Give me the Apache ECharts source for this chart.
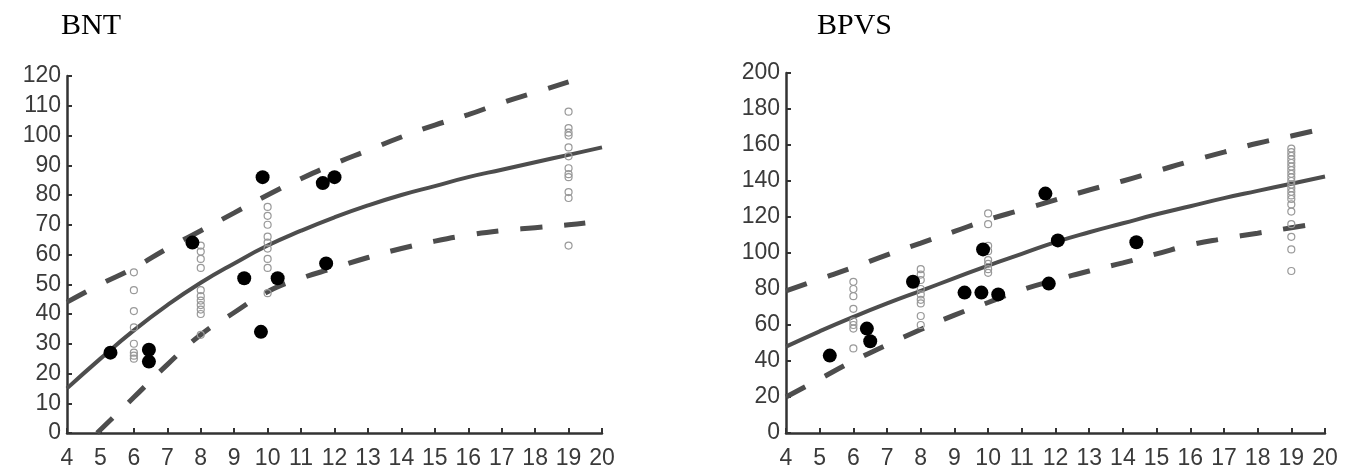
<!DOCTYPE html>
<html>
<head>
<meta charset="utf-8">
<script src="https://cdn.jsdelivr.net/npm/echarts@6/dist/echarts.min.js"></script>
<style>
html,body{margin:0;padding:0;background:#fff;}
#chart{width:1345px;height:473px;}
</style>
</head>
<body>
<div id="chart"></div>
<script>
// ---------- BNT panel ----------
const bntFitX = [4,5,6,7,8,9,10,11,12,13,14,15,16,17,18,19,20];
const bntFitY = [15,25,34.5,43,50.5,57,63,68,72.5,76.5,80,83,86,88.5,91,93.5,96];
const bntUpperX = [4,5,6,7,8,9,10,11,12,13,14,15,16,17,18,19];
const bntUpperY = [44,50,55.5,62,68,74,80,85.5,90.5,95,99.5,103.5,107,111,114.5,118];
const bntLowerX = [4.9,6,7,8,9,10,11,12,13,14,15,16,17,18,19,19.5];
const bntLowerY = [0,12,23,33,40.5,47.5,52,55.5,59,62,64.5,66.5,68,69,70,70.6];
const bntHollow6 = [54,48,41,35.5,30,27,26,25];
const bntHollow8 = [63,61,58.5,55.5,48,46,44.5,43,41.5,40,33];
const bntHollow10 = [76,73,70,66,64,62,58.5,55.5,47];
const bntHollow19 = [108,102.5,101,100,96,93,89,87,86,81,79,63];
const bntDotX = [5.3,6.45,6.45,7.75,9.3,9.85,9.8,10.3,11.65,12.0,11.75];
const bntDotY = [27,28,24,64,52,86,34,52,84,86,57];

// ---------- BPVS panel ----------
const bpvsFitX = [4,5,6,7,8,9,10,11,12,13,14,15,16,17,18,19,20];
const bpvsFitY = [48,56.5,64.5,72,79,86,93,99.5,106,111.5,116.5,121.5,126,130.5,134.5,138.5,142.5];
const bpvsUpperX = [4,5,6,7,8,9,10,11,12,13,14,15,16,17,18,19,19.7];
const bpvsUpperY = [79,85.5,92,99,105.5,112,118.5,124,129.5,135,140,145.5,151,156,161,165,168];
const bpvsLowerX = [4,5,6,7,8,9,10,11,12,13,14,15,16,17,18,19,19.5];
const bpvsLowerY = [20,30,40,49,57.5,65.5,72.5,79.5,85,90,94.5,99.5,104.5,108,111,114,115.5];
const bpvsHollow6 = [84,80,76,69,62,60,58,47];
const bpvsHollow8 = [91,88,85,80,77,74,72,65,60];
const bpvsHollow10 = [122,116,104,101,96,94,91,89];
const bpvsHollow19 = [158,156,154,152,150,148,146,144,142,140,138,136,134,132,130,127,123,116,109,102,90];
const bpvsDotX = [5.3,6.4,6.5,7.77,9.3,9.8,9.85,10.3,11.7,11.8,12.07,14.4];
const bpvsDotY = [43,58,51,84,78,78,102,77,133,83,107,106];

const bntYMax = 120, bntYStep = 10;
const bpvsYMax = 200, bpvsYStep = 20;
const xMin = 4, xMax = 20, xStep = 1;

function pairs(xs, ys){ return xs.map((x,i)=>[x, ys[i]]); }
function column(x, ys){ return ys.map(y=>[x,y]); }

const AX = '#333';
const LINE = '#4d4d4d';
const labelFont = {fontSize: 23, color: '#3a3a3a', fontFamily: 'Liberation Sans'};

function xAxisCfg(gi){
  return {
    gridIndex: gi, type: 'value', min: xMin, max: xMax, interval: xStep,
    axisLine: {show: true, onZero: false, lineStyle: {color: AX, width: 2.5}},
    axisTick: {show: true, inside: true, length: 5, lineStyle: {color: AX, width: 2}},
    axisLabel: Object.assign({margin: 14}, labelFont),
    splitLine: {show: false}
  };
}
function yAxisCfg(gi, max, step){
  return {
    gridIndex: gi, type: 'value', min: 0, max: max, interval: step,
    axisLine: {show: true, onZero: false, lineStyle: {color: AX, width: 2.5}},
    axisTick: {show: true, inside: true, length: 5, lineStyle: {color: AX, width: 2}},
    axisLabel: Object.assign({margin: 6}, labelFont),
    splitLine: {show: false}
  };
}

function panelSeries(gi, fit, upper, lower, hollows, dots){
  const s = [];
  s.push({type:'line', xAxisIndex:gi, yAxisIndex:gi, data: fit, smooth: true, showSymbol:false,
          lineStyle:{color: LINE, width: 4}, z: 3});
  s.push({type:'line', xAxisIndex:gi, yAxisIndex:gi, data: upper, smooth: true, showSymbol:false,
          lineStyle:{color: LINE, width: 5, type:[22,22]}, z: 3});
  s.push({type:'line', xAxisIndex:gi, yAxisIndex:gi, data: lower, smooth: true, showSymbol:false,
          lineStyle:{color: LINE, width: 5, type:[22,22]}, z: 3});
  s.push({type:'scatter', xAxisIndex:gi, yAxisIndex:gi, data: hollows, symbol:'circle', symbolSize: 7,
          itemStyle:{color:'rgba(255,255,255,0)', borderColor:'#999', borderWidth:1.2, opacity:1}, z: 4});
  s.push({type:'scatter', xAxisIndex:gi, yAxisIndex:gi, data: dots, symbol:'circle', symbolSize: 14,
          itemStyle:{color:'#000', opacity:1}, z: 5});
  return s;
}

const bntHollows = [].concat(column(6,bntHollow6), column(8,bntHollow8), column(10,bntHollow10), column(19,bntHollow19));
const bpvsHollows = [].concat(column(6,bpvsHollow6), column(8,bpvsHollow8), column(10,bpvsHollow10), column(19,bpvsHollow19));

const chart = echarts.init(document.getElementById('chart'), null, {renderer:'canvas'});
chart.setOption({
  animation: false,
  backgroundColor: '#fff',
  title: [
    {text:'BNT', left: 56, top: 6, textStyle:{fontFamily:'Liberation Serif', fontSize: 30, fontWeight:'normal', color:'#000'}},
    {text:'BPVS', left: 812, top: 6, textStyle:{fontFamily:'Liberation Serif', fontSize: 30, fontWeight:'normal', color:'#000'}}
  ],
  grid: [
    {left: 67, top: 76, width: 535, height: 357},
    {left: 786, top: 73, width: 539, height: 360}
  ],
  xAxis: [xAxisCfg(0), xAxisCfg(1)],
  yAxis: [yAxisCfg(0, bntYMax, bntYStep), yAxisCfg(1, bpvsYMax, bpvsYStep)],
  series: [].concat(
    panelSeries(0, pairs(bntFitX,bntFitY), pairs(bntUpperX,bntUpperY), pairs(bntLowerX,bntLowerY), bntHollows, pairs(bntDotX,bntDotY)),
    panelSeries(1, pairs(bpvsFitX,bpvsFitY), pairs(bpvsUpperX,bpvsUpperY), pairs(bpvsLowerX,bpvsLowerY), bpvsHollows, pairs(bpvsDotX,bpvsDotY))
  )
});
</script>
</body>
</html>
